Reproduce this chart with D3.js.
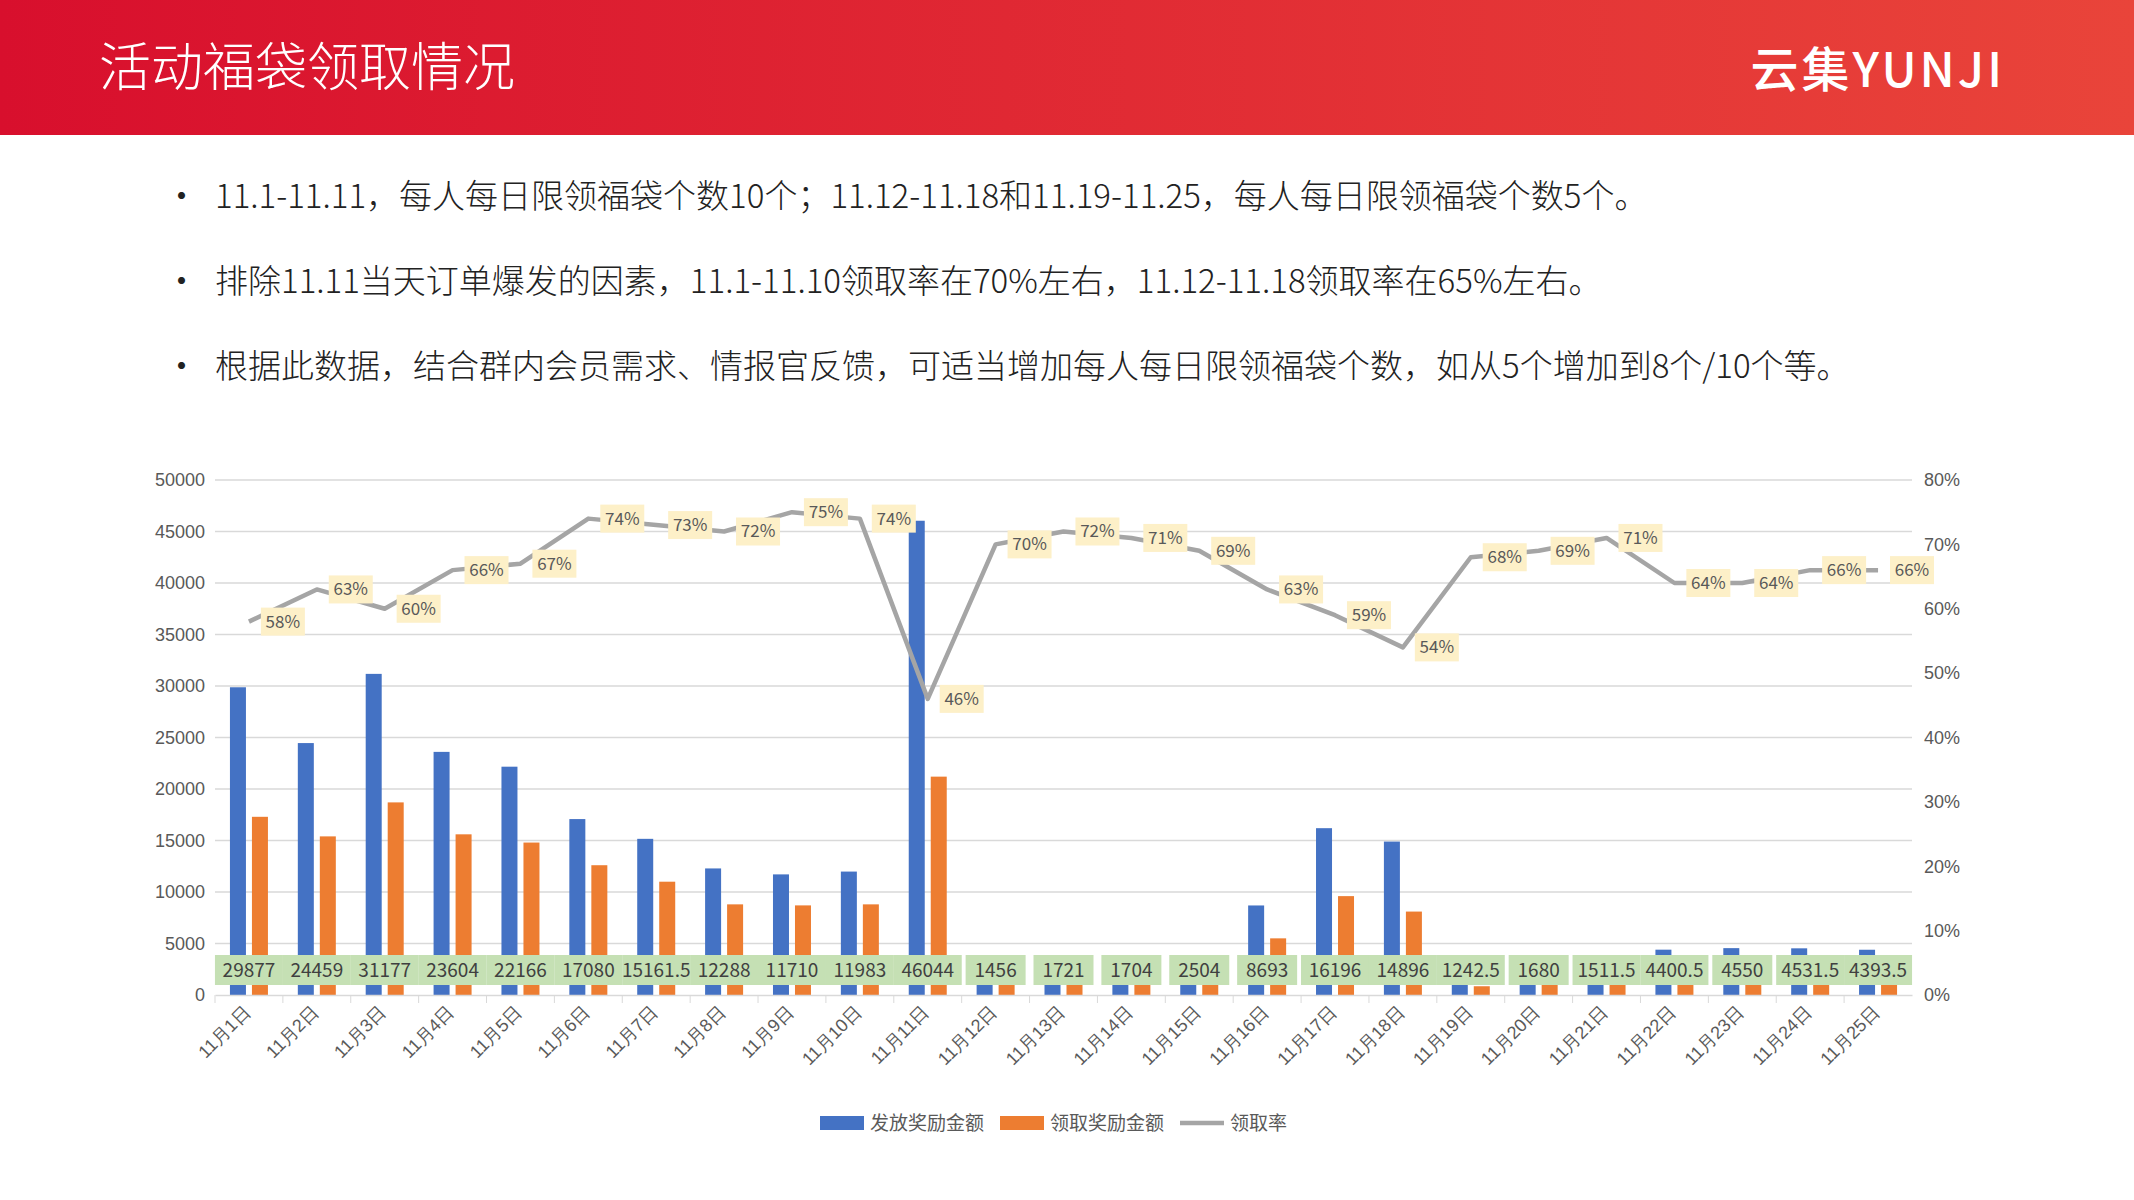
<!DOCTYPE html>
<html><head><meta charset="utf-8">
<script src="https://cdn.jsdelivr.net/npm/d3@7"></script>
<style>body{margin:0;background:#fff;font-family:"Noto Sans CJK SC","Noto Sans",sans-serif;}</style>
</head><body><svg id="c" width="2134" height="1200"></svg>
<script>
const days = d3.range(1, 26).map(d => `11月${d}日`);
const sent = [29877,24459,31177,23604,22166,17080,15161.5,12288,11710,11983,46044,1456,1721,1704,2504,8693,16196,14896,1242.5,1680,1511.5,4400.5,4550,4531.5,4393.5];
const received = [17300,15400,18700,15600,14800,12600,11000,8800,8700,8800,21200,1020,1240,1210,1780,5500,9600,8100,850,1150,1070,2820,2910,2990,2900];
const rate = [58,63,60,66,67,74,73,72,75,74,46,70,72,71,69,63,59,54,68,69,71,64,64,66,66];
const bullets = [
  "11.1-11.11，每人每日限领福袋个数10个；11.12-11.18和11.19-11.25，每人每日限领福袋个数5个。",
  "排除11.11当天订单爆发的因素，11.1-11.10领取率在70%左右，11.12-11.18领取率在65%左右。",
  "根据此数据，结合群内会员需求、情报官反馈，可适当增加每人每日限领福袋个数，如从5个增加到8个/10个等。"
];
const yTicks = d3.range(0, 50001, 5000);
const rTicks = d3.range(0, 81, 10);

const svg = d3.select("#c");
const defs = svg.append("defs");
const grad = defs.append("linearGradient").attr("id", "hd");
grad.append("stop").attr("offset", "0%").attr("stop-color", "#d80f2d");
grad.append("stop").attr("offset", "100%").attr("stop-color", "#e9443a");
svg.append("rect").attr("width", 2134).attr("height", 135).attr("fill", "url(#hd)");
svg.append("text").attr("x", 99).attr("y", 86).attr("fill", "#fff")
  .style("font-size", "52px").style("font-weight", 300).text("活动福袋领取情况");
svg.append("text").attr("x", 2005).attr("y", 87).attr("fill", "#fff").attr("text-anchor", "end")
  .style("font-size", "48px").style("font-weight", 500).style("letter-spacing", "3px").text("云集YUNJI");

bullets.forEach((b, i) => {
  const y = 208 + i * 85;
  svg.append("text").attr("x", 165).attr("y", y).style("font-size", "33px").attr("fill", "#222").text("•");
  svg.append("text").attr("x", 215).attr("y", y).style("font-size", "33px").style("font-weight", 300)
    .attr("fill", "#222").text(b);
});

const L = 215, R = 1912, T = 480, B = 995;
const x = d3.scaleBand().domain(days).range([L, R]);
const y = d3.scaleLinear().domain([0, 50000]).range([B, T]);
const yr = d3.scaleLinear().domain([0, 80]).range([B, T]);
const bw = 16;

const g = svg.append("g").style("font-family", "'Noto Sans CJK SC',sans-serif");
g.selectAll(".grid").data(yTicks.slice(1)).enter().append("line")
  .attr("x1", L).attr("x2", R).attr("y1", d => y(d)).attr("y2", d => y(d))
  .attr("stroke", "#d9d9d9").attr("stroke-width", 1.5);

const yAxis = g.append("g").attr("transform", `translate(${L},0)`)
  .call(d3.axisLeft(y).tickValues(yTicks).tickSize(0).tickPadding(10).tickFormat(d3.format("d")));
yAxis.select(".domain").remove();
yAxis.selectAll("text").style("font-size", "18px").attr("fill", "#595959");

const rAxis = g.append("g").attr("transform", `translate(${R},0)`)
  .call(d3.axisRight(yr).tickValues(rTicks).tickSize(0).tickPadding(12).tickFormat(d => d + "%"));
rAxis.select(".domain").remove();
rAxis.selectAll("text").style("font-size", "18px").attr("fill", "#595959");

g.selectAll(".b1").data(days).enter().append("rect")
  .attr("x", (d, i) => x(d) + x.bandwidth() / 2 - bw - 3).attr("width", bw)
  .attr("y", (d, i) => y(sent[i])).attr("height", (d, i) => B - y(sent[i])).attr("fill", "#4472c4");
g.selectAll(".b2").data(days).enter().append("rect")
  .attr("x", (d, i) => x(d) + x.bandwidth() / 2 + 3).attr("width", bw)
  .attr("y", (d, i) => y(received[i])).attr("height", (d, i) => B - y(received[i])).attr("fill", "#ed7d31");

const xAxis = g.append("g").attr("transform", `translate(0,${B})`)
  .call(d3.axisBottom(x).tickSize(8).tickSizeOuter(0));
xAxis.select(".domain").attr("stroke", "#d9d9d9").attr("stroke-width", 1.5);
xAxis.selectAll("line").attr("stroke", "#d9d9d9").attr("transform", `translate(${-x.bandwidth() / 2},0)`);
xAxis.selectAll("text").style("font-size", "18px").attr("fill", "#595959")
  .attr("text-anchor", "end").attr("transform", "translate(-2,14) rotate(-45)").attr("dy", "0.35em").attr("y", 0);

const line = d3.line().x((d, i) => x(days[i]) + x.bandwidth() / 2).y(d => yr(d));
g.append("path").datum(rate).attr("d", line).attr("fill", "none")
  .attr("stroke", "#a5a5a5").attr("stroke-width", 4.5).attr("stroke-linejoin", "round");

// bar labels
const half = v => Math.min(34, String(v).length * 4.5 + 12);
const bl = g.selectAll(".bl").data(days).enter().append("g")
  .attr("transform", (d, i) => `translate(${x(d) + x.bandwidth() / 2},970)`);
bl.append("rect").attr("x", (d, i) => -half(sent[i])).attr("y", -15)
  .attr("width", (d, i) => 2 * half(sent[i])).attr("height", 30).attr("fill", "#c5e0b4");
bl.append("text").attr("text-anchor", "middle").attr("dy", "0.35em")
  .style("font-size", "19px").attr("fill", "#404040").text((d, i) => sent[i]);

// rate labels
const rl = g.selectAll(".rl").data(days).enter().append("g")
  .attr("transform", (d, i) => `translate(${x(d) + x.bandwidth()},${yr(rate[i])})`);
rl.append("rect").attr("x", -22).attr("y", -14).attr("width", 44).attr("height", 28).attr("fill", "#fdf0c8");
rl.append("text").attr("text-anchor", "middle").attr("dy", "0.35em")
  .style("font-size", "17px").attr("fill", "#595959").text((d, i) => rate[i] + "%");

// legend
const leg = [["发放奖励金额", "#4472c4", "r"], ["领取奖励金额", "#ed7d31", "r"], ["领取率", "#a5a5a5", "l"]];
let lx = 820;
leg.forEach(([t, c, k]) => {
  if (k === "r") svg.append("rect").attr("x", lx).attr("y", 1116).attr("width", 44).attr("height", 14).attr("fill", c);
  else svg.append("line").attr("x1", lx).attr("x2", lx + 44).attr("y1", 1123).attr("y2", 1123).attr("stroke", c).attr("stroke-width", 4.5);
  svg.append("text").attr("x", lx + 50).attr("y", 1123).attr("dy", "0.35em").style("font-size", "19px").attr("fill", "#595959").text(t);
  lx += 50 + t.length * 19 + 16;
});
</script></body></html>
